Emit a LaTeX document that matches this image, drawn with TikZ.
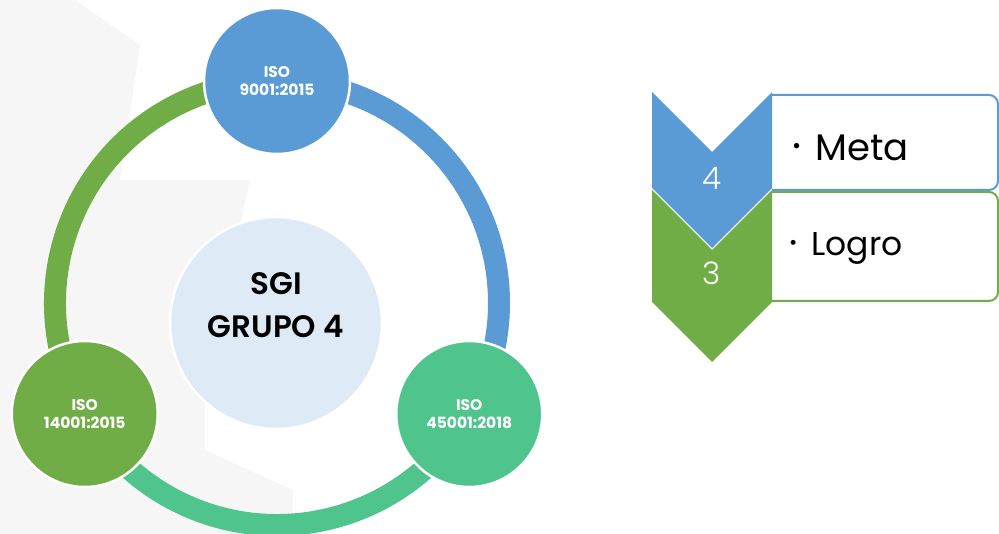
\documentclass[tikz,border=0pt]{standalone}
\usepackage{fontspec}
\setmainfont{Poppins}
\IfFontExistsTF{Poppins SemiBold}{\newfontfamily\semiweight{Poppins SemiBold}}{\newcommand\semiweight{\bfseries}}
\IfFontExistsTF{Poppins Light}{\newfontfamily\lightweight{Poppins Light}}{\newcommand\lightweight{}}
\usetikzlibrary{positioning,calc}

\definecolor{isoblue}{HTML}{5B9BD5}
\definecolor{isogreen}{HTML}{70AD47}
\definecolor{isoteal}{HTML}{4FC58D}
\definecolor{corefill}{HTML}{DEEBF7}
\definecolor{markgray}{HTML}{F6F6F6}

\tikzset{
    ringarc/.style={line width=22pt},
    isocirc/.style={
        circle,
        draw=white, line width=2.5pt,
        minimum size=146pt,
        inner sep=0pt,
        text=white,
        align=center,
        font=\fontsize{15.5}{18}\selectfont\bfseries
    },
    corecirc/.style={
        circle,
        fill=corefill,
        draw=white, line width=2.5pt,
        minimum size=212pt
    },
    coretitle/.style={align=center, font=\fontsize{31}{43}\selectfont\semiweight},
    chevnum/.style={text=white, font=\fontsize{31}{31}\selectfont\lightweight},
    itemedge/.style={line width=2pt, fill=white, rounded corners=9pt},
    itemtext/.style={anchor=base west, inner sep=0pt}
}

\begin{document}
\begin{tikzpicture}[x=1pt, y=-1pt]
    \useasboundingbox (0,0) rectangle (999,534);
    % faint watermark behind the ring
    \fill[markgray] (0,0) -- (75,0) -- (140,45) -- (120,180) -- (250,180) -- (205,385)
        -- (205,450) -- (293,490) -- (293,534) -- (0,534) -- cycle;
    % ring
    \coordinate (ring) at (277,303);
    \draw[ringarc, isoblue]  (ring) ++(-90:222) arc[start angle=-90, end angle=30, radius=222];
    \draw[ringarc, isoteal]  (ring) ++(30:222)  arc[start angle=30, end angle=150, radius=222];
    \draw[ringarc, isogreen] (ring) ++(150:222) arc[start angle=150, end angle=270, radius=222];
    \node[corecirc] (core) at (276,323) {};
    \node[coretitle] (coretext) at ($(core.center)+(0,-18)$) {SGI\\GRUPO 4};
    \node[isocirc, fill=isoblue]  (iso9001)  at ($(ring)+(-90:222)$) {ISO\\9001:2015};
    \node[isocirc, fill=isoteal]  (iso45001) at ($(ring)+(30:222)$)  {ISO\\45001:2018};
    \node[isocirc, fill=isogreen] (iso14001) at ($(ring)+(150:222)$) {ISO\\14001:2015};
    % chevron list
    \draw[itemedge, draw=isoblue] (772,95) -- (998,95) -- (998,190) -- (772,190);
    \draw[itemedge, draw=isogreen] (772,192) -- (998,192) -- (998,301) -- (772,301);
    \fill[isogreen] (652,190) -- (712,250) -- (772,190) -- (772,302) -- (712,362) -- (652,302) -- cycle;
    \fill[isoblue] (652,92) -- (712,152) -- (772,92) -- (772,188) -- (712,248) -- (652,188) -- cycle;
    \node[chevnum] (metanum) at (712,178) {4};
    \node[chevnum] (logronum) at (712,273) {3};
    \node[itemtext, font=\fontsize{37}{37}\selectfont] (meta) at (792,161)
        {\raisebox{7pt}{\fontsize{22}{22}\selectfont •}\hspace{14pt}Meta};
    \node[itemtext, font=\fontsize{33}{33}\selectfont] (logro) at (789,256)
        {\raisebox{6pt}{\fontsize{20}{20}\selectfont •}\hspace{14pt}Logro};
\end{tikzpicture}
\end{document}
